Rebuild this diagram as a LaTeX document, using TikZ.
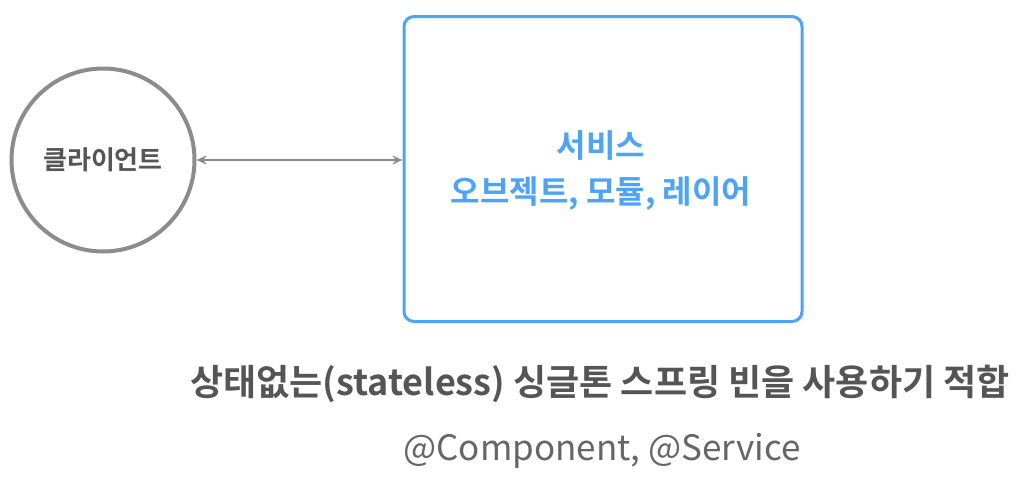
\documentclass[tikz,border=0pt]{standalone}
\usepackage{fontspec}
\setmainfont{Noto Sans CJK KR}
\newfontfamily\krbold{Noto Sans CJK KR Bold}
\newfontfamily\krreg{Noto Sans CJK KR}
\usetikzlibrary{arrows.meta}
\definecolor{cgray}{HTML}{8C8C8C}
\definecolor{tgray}{HTML}{555555}
\definecolor{lgray}{HTML}{666666}
\definecolor{cblue}{HTML}{4DA3F7}
\begin{document}
\begin{tikzpicture}[x=1pt,y=-1pt,
  client/.style={circle, draw=cgray, line width=4pt, minimum size=183pt, inner sep=0pt,
    font=\krbold\fontsize{26}{30}\selectfont, text=tgray},
  svcbox/.style={draw=cblue, line width=3pt, rounded corners=10pt, minimum width=398pt,
    minimum height=305pt, inner sep=0pt},
  svctext/.style={font=\krbold\fontsize{32}{46}\selectfont, text=cblue, align=center},
  conn/.style={draw=cgray, line width=2.2pt, {Stealth[length=10pt,width=9pt]}-{Stealth[length=10pt,width=9pt]}},
  caption/.style={font=\krbold\fontsize{36}{40}\selectfont, text=tgray},
  annot/.style={font=\krreg\fontsize{35}{40}\selectfont, text=lgray}
]
\useasboundingbox (0,0) rectangle (1018,482);
\node[client] (client) at (103,160) {클라이언트};
\node[svcbox] (svc) at (603,169) {};
\node[svctext] (svclabel) at (601,170) {서비스\\오브젝트, 모듈, 레이어};
\coordinate (svcleft) at (svc.west |- client.east);
\draw[conn] (client.east) -- (svcleft);
\node[caption] (cap) at (600,384) {상태없는(stateless) 싱글톤 스프링 빈을 사용하기 적합};
\node[annot] (ann) at (602,451) {@Component, @Service};
\end{tikzpicture}
\end{document}
